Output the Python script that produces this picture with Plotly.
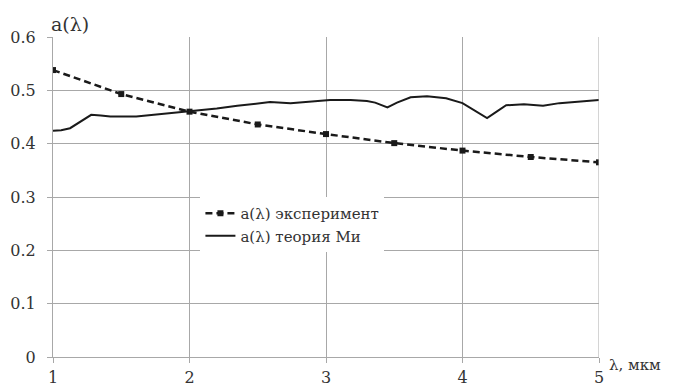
import plotly.graph_objects as go

# Experimental albedo a(λ)
exp_x = [1.0, 1.5, 2.0, 2.5, 3.0, 3.5, 4.0, 4.5, 5.0]
exp_y = [0.538, 0.493, 0.460, 0.436, 0.418, 0.401, 0.387, 0.375, 0.365]

# Mie theory a(λ)
mie_x = [1.0, 1.06, 1.125, 1.2, 1.28, 1.35, 1.42, 1.61, 1.73, 1.87, 2.0, 2.2,
         2.35, 2.44, 2.59, 2.74, 2.88, 3.03, 3.18, 3.3, 3.36, 3.40, 3.45, 3.52,
         3.62, 3.74, 3.88, 4.0, 4.10, 4.18, 4.25, 4.32, 4.45, 4.59, 4.71, 4.86, 5.0]
mie_y = [0.424, 0.425, 0.429, 0.441, 0.454, 0.453, 0.451, 0.451, 0.454, 0.458,
         0.461, 0.466, 0.471, 0.474, 0.478, 0.476, 0.479, 0.482, 0.482, 0.480,
         0.477, 0.473, 0.468, 0.477, 0.487, 0.489, 0.485, 0.476, 0.460, 0.448,
         0.460, 0.472, 0.474, 0.471, 0.476, 0.479, 0.482]

x_ticks = [1, 2, 3, 4, 5]
x_ticktext = ["1", "2", "3", "4", "5"]
y_ticks = [0, 0.1, 0.2, 0.3, 0.4, 0.5, 0.6]
y_ticktext = ["0", "0.1", "0.2", "0.3", "0.4", "0.5", "0.6"]

series_names = ["a(λ) эксперимент", "a(λ) теория Ми"]
y_title = "a(λ)"
x_title = "λ, мкм"

FONT = "DejaVu Serif"
TXT = "#333333"
GRID = "#a8a8a8"

fig = go.Figure()
fig.add_trace(go.Scatter(
    x=exp_x, y=exp_y, name=series_names[0], mode="lines+markers",
    line=dict(color="#1a1a1a", width=2.5, dash="7px,4px"),
    marker=dict(symbol="square", size=6, color="#1a1a1a"),
))
fig.add_trace(go.Scatter(
    x=mie_x, y=mie_y, name=series_names[1], mode="lines",
    line=dict(color="#1a1a1a", width=2),
))

fig.update_layout(
    width=673, height=387,
    margin=dict(l=53, r=74, t=37, b=30, autoexpand=False),
    paper_bgcolor="white", plot_bgcolor="white",
    font=dict(family=FONT, color=TXT, size=16),
    showlegend=True,
    legend=dict(
        x=0.27, y=0.50, xanchor="left", yanchor="top",
        bgcolor="white", borderwidth=0,
        font=dict(family=FONT, size=15, color=TXT),
        tracegroupgap=0,
    ),
    xaxis=dict(
        range=[1, 5], tickvals=x_ticks, ticktext=x_ticktext,
        showgrid=True, gridcolor=GRID, gridwidth=1,
        showline=True, linecolor=GRID, linewidth=1, mirror=False,
        ticks="outside", ticklen=5, tickcolor=GRID,
        ticklabelstandoff=1, automargin=False,
        zeroline=False, tickfont=dict(size=16, family=FONT, color=TXT),
    ),
    yaxis=dict(
        range=[0, 0.6], tickvals=y_ticks, ticktext=y_ticktext,
        showgrid=True, gridcolor=GRID, gridwidth=1,
        showline=True, linecolor=GRID, linewidth=1,
        ticks="outside", ticklen=5, tickcolor=GRID,
        ticklabelstandoff=8, automargin=False,
        zeroline=False, tickfont=dict(size=16, family=FONT, color=TXT),
    ),
    annotations=[
        dict(text=y_title, xref="paper", yref="paper", x=0, y=1,
             xanchor="left", yanchor="bottom", xshift=-4, yshift=0, showarrow=False,
             font=dict(size=19, family=FONT, color=TXT)),
        dict(text=x_title, xref="paper", yref="paper", x=1, y=0,
             xanchor="left", yanchor="top", xshift=8, yshift=3, showarrow=False,
             font=dict(size=15, family=FONT, color=TXT)),
    ],
)
fig.add_shape(type="line", xref="x", yref="paper", x0=5, x1=5, y0=0, y1=1,
              line=dict(color=GRID, width=1))

fig.write_html("out.html")
